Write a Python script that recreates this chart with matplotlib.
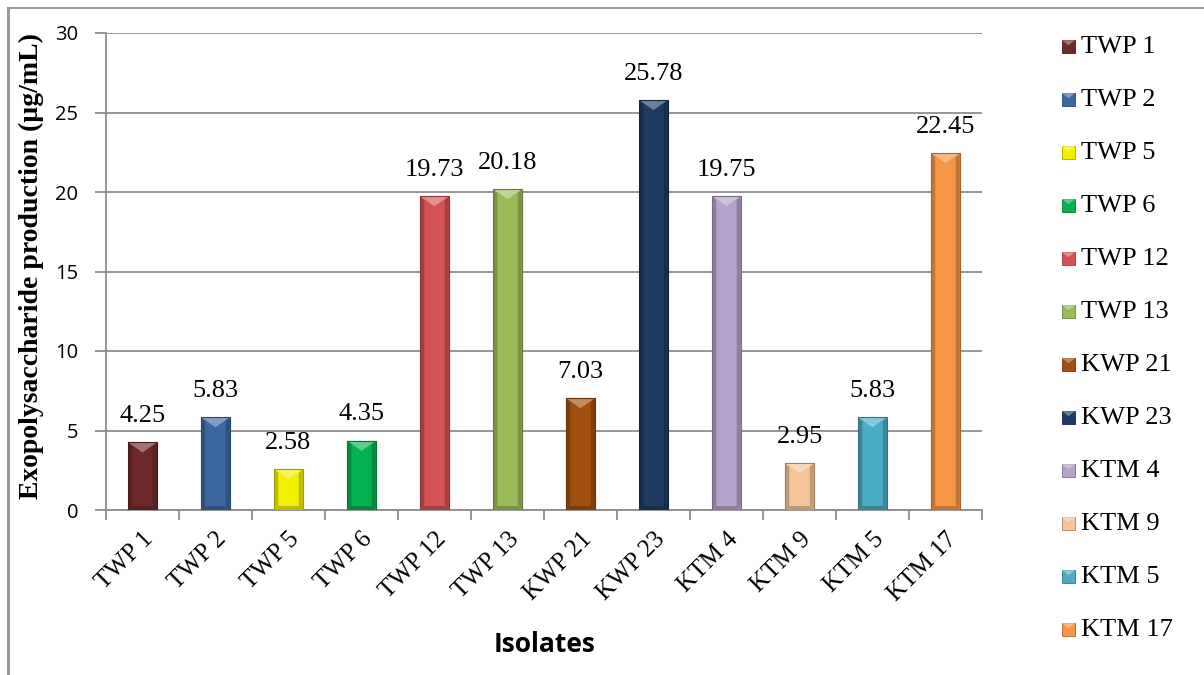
import numpy as np
import matplotlib
matplotlib.use("Agg")
import matplotlib.pyplot as plt
from matplotlib.patches import Polygon, Rectangle
from matplotlib.lines import Line2D
from matplotlib.transforms import IdentityTransform
from matplotlib.colors import to_rgb

# Isolates and their exopolysaccharide yield (µg/mL)
isolates = ["TWP 1", "TWP 2", "TWP 5", "TWP 6", "TWP 12", "TWP 13",
            "KWP 21", "KWP 23", "KTM 4", "KTM 9", "KTM 5", "KTM 17"]
eps_yield = [4.25, 5.83, 2.58, 4.35, 19.73, 20.18,
             7.03, 25.78, 19.75, 2.95, 5.83, 22.45]
bar_colors = ["#6E2A2A", "#3C68A2", "#F2F000", "#05B050", "#D35252", "#9BBB59",
              "#A24F10", "#1F3A62", "#B4A3CA", "#F6C496", "#4BACC6", "#F79646"]
y_ticks = [0, 5, 10, 15, 20, 25, 30]

SERIF = "Liberation Serif"
SANS = "Open Sans"
GRID = "#8E8E8E"

fig = plt.figure(figsize=(12.04, 6.75), dpi=100)
ax = fig.add_axes([106 / 1204, 1 - 510 / 675, (982 - 106) / 1204, (510 - 33) / 675])

x = np.arange(len(isolates))
bars = ax.bar(x, eps_yield, width=0.39, color=bar_colors, zorder=3,
              edgecolor="none")

ax.set_xlim(-0.5, len(isolates) - 0.5)
ax.set_ylim(0, 30)
ax.set_yticks(y_ticks)
ax.set_yticklabels([str(t) for t in y_ticks], fontfamily=SANS, fontsize=14.5)
ax.yaxis.grid(True, color=GRID, linewidth=1.3, zorder=0)
ax.set_axisbelow(True)

# tick marks sit on category boundaries, labels on category centres
ax.set_xticks(np.arange(-0.5, len(isolates), 1.0))
ax.set_xticklabels([])
ax.set_xticks(x, minor=True)
ax.set_xticklabels(isolates, minor=True, rotation=45, ha="right",
                   rotation_mode="anchor", fontfamily=SERIF, fontsize=18)
ax.tick_params(axis="x", which="minor", length=0, pad=13)
ax.tick_params(axis="x", which="major", length=7, width=1.3, color=GRID)
ax.tick_params(axis="y", length=8, width=1.3, color=GRID, pad=12)

for side in ("top", "right"):
    ax.spines[side].set_visible(False)
for side in ("left", "bottom"):
    ax.spines[side].set_color(GRID)
    ax.spines[side].set_linewidth(1.3)

fig.text(31 / 1204, 1 - 266 / 675, "Exopolysaccharide production (µg/mL)",
         fontfamily=SERIF, fontweight="bold", fontsize=20, rotation=90,
         ha="center", va="center")
fig.text(545 / 1204, 1 - 645 / 675, "Isolates", fontfamily=SANS,
         fontweight="bold", fontsize=19, ha="center", va="center")


def blend(c, other, t):
    c = np.array(to_rgb(c))
    return tuple(c * (1 - t) + np.array(other) * t)


# bevelled look for each bar, computed from the bar rectangles
for rect, col in zip(bars.patches, bar_colors):
    (px0, py0) = ax.transData.transform((rect.get_x(), 0))
    (px1, py1) = ax.transData.transform((rect.get_x() + rect.get_width(), rect.get_height()))
    b = 4.0
    pxc = (px0 + px1) / 2
    dark = blend(col, (0, 0, 0), 0.22)
    light = blend(col, (1, 1, 1), 0.35)
    # side shading
    ax.add_patch(Polygon([(px0, py0), (px0 + b, py0 + b), (px0 + b, py1 - b), (px0, py1)],
                         closed=True, transform=IdentityTransform(), facecolor=dark,
                         edgecolor="none", zorder=4))
    ax.add_patch(Polygon([(px1, py0), (px1 - b, py0 + b), (px1 - b, py1 - b), (px1, py1)],
                         closed=True, transform=IdentityTransform(), facecolor=dark,
                         edgecolor="none", zorder=4))
    ax.add_patch(Polygon([(px0, py0), (px1, py0), (px1 - b, py0 + b), (px0 + b, py0 + b)],
                         closed=True, transform=IdentityTransform(), facecolor=dark,
                         edgecolor="none", zorder=4))
    # light chevron on the top face
    depth = min(10.0, (py1 - py0) * 0.5)
    ax.add_patch(Polygon([(px0, py1), (px1, py1), (pxc, py1 - depth)],
                         closed=True, transform=IdentityTransform(), facecolor=light,
                         edgecolor="none", zorder=4))
    ax.add_patch(Rectangle((px0, py0), px1 - px0, py1 - py0, transform=IdentityTransform(),
                           facecolor="none", edgecolor=blend(col, (0, 0, 0), 0.35),
                           linewidth=0.8, zorder=5))

# value labels above bars
for xi, v in zip(x, eps_yield):
    ax.annotate(f"{v:.2f}", (xi, v), xytext=(0, 19), textcoords="offset points",
                ha="center", va="center", fontfamily=SERIF, fontsize=19, zorder=6)

# legend column on the right
for i, (name, col) in enumerate(zip(isolates, bar_colors)):
    yc = 1 - (46.7 + 53.0 * i) / 675
    sq = 13 / 675
    fig.patches.append(Rectangle((1062 / 1204, yc - sq / 2), 13 / 1204, sq,
                                 transform=fig.transFigure, facecolor=col,
                                 edgecolor=blend(col, (0, 0, 0), 0.3), linewidth=0.6))
    fig.patches.append(Polygon([(1062 / 1204, yc + sq / 2), (1075 / 1204, yc + sq / 2),
                                (1068.5 / 1204, yc + sq / 2 - 5 / 675)], closed=True,
                               transform=fig.transFigure,
                               facecolor=blend(col, (1, 1, 1), 0.35), edgecolor="none"))
    fig.text(1081 / 1204, yc, name, fontfamily=SERIF, fontsize=19,
             ha="left", va="center")

# outer frame lines (left and top)
fig.add_artist(Line2D([7.5 / 1204, 7.5 / 1204], [0, 1 - 8 / 675], transform=fig.transFigure,
                      color="#9A9A9A", linewidth=2.2))
fig.add_artist(Line2D([7.5 / 1204, 1], [1 - 8 / 675, 1 - 8 / 675], transform=fig.transFigure,
                      color="#9A9A9A", linewidth=1.5))

fig.savefig("out.png", dpi=100)
